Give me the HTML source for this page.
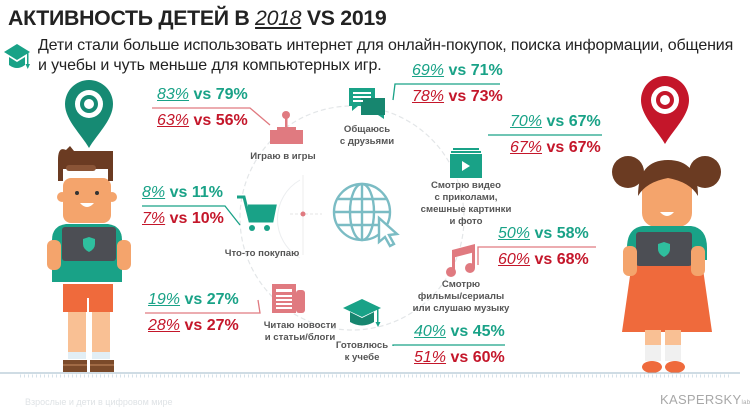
<!DOCTYPE html>
<html><head><meta charset="utf-8">
<style>
*{margin:0;padding:0;box-sizing:border-box}
body{width:750px;height:419px;background:#fff;position:relative;overflow:hidden;font-family:"Liberation Sans","DejaVu Sans",sans-serif}
.abs{position:absolute}
#title{left:8px;top:6px;font-size:21.3px;font-weight:bold;color:#222;letter-spacing:-0.3px;white-space:nowrap}
#title u{font-style:italic;font-weight:normal}
.sub{left:38px;font-size:16px;color:#222;white-space:nowrap;letter-spacing:-0.15px}
.lbl{font-size:9.6px;font-weight:bold;color:#555;text-align:center;line-height:12px;white-space:nowrap;transform:translateX(-50%)}
.st{font-size:16px;font-weight:bold;white-space:nowrap}
.st i{text-decoration:underline;font-weight:normal}
.t{color:#19a287}.r{color:#c4162a}
</style></head><body>
<div id="title" class="abs">АКТИВНОСТЬ ДЕТЕЙ В <u>2018</u> VS 2019</div>
<div class="abs sub" style="top:37px">Дети стали больше использовать интернет для онлайн-покупок, поиска информации, общения</div>
<div class="abs sub" style="top:57px">и учебы и чуть меньше для компьютерных игр.</div>

<svg class="abs" style="left:0;top:0" width="750" height="419">
 <g fill="#19a287">
  <polygon points="4,52 17,44 30,52 17,60"/><path d="M9,57 v8 q8,6 16,0 v-8 l-8,5z"/><rect x="27" y="52" width="1.5" height="14"/><polygon points="25.5,64 30,64 27.75,69"/>
 </g>
 <circle cx="352" cy="218" r="112" fill="none" stroke="#e3e6e8" stroke-width="1.2" stroke-dasharray="5 3"/>
 <path d="M300,180 A45,45 0 0 0 300,258" fill="none" stroke="#eceef0" stroke-width="1"/>
 <line x1="290" y1="214" x2="322" y2="214" stroke="#e6e6e6" stroke-dasharray="3 2"/>
 <line x1="303" y1="175" x2="303" y2="255" stroke="#ececec"/>
 <circle cx="303" cy="214" r="2.5" fill="#e07a80"/>
 <g fill="none" stroke="#7bbcc4" stroke-width="2.4">
  <circle cx="362" cy="212" r="28"/><ellipse cx="362" cy="212" rx="12" ry="28"/><line x1="362" y1="184" x2="362" y2="240"/>
  <line x1="334" y1="212" x2="390" y2="212"/><line x1="338" y1="199" x2="386" y2="199"/><line x1="338" y1="225" x2="386" y2="225"/>
  <path d="M379,218 l0,24 l6,-5 l5,9 l4,-2 l-5,-9 l8,-1z" fill="#fff"/>
 </g>
 <g fill="#e07a80">
  <circle cx="286" cy="115" r="4"/><rect x="285" y="118" width="2.5" height="12"/><rect x="277" y="127" width="19" height="3"/><rect x="270" y="130" width="33" height="14"/>
 </g>
 <g fill="#19a287">
  <rect x="349" y="88" width="26" height="18"/><polygon points="352,106 358,106 352,111"/>
  <rect x="361" y="98" width="24" height="17" fill="#17866f"/><polygon points="378,115 384,115 384,119"/>
  <g fill="#fff"><rect x="353" y="92" width="18" height="2"/><rect x="353" y="96" width="18" height="2"/><rect x="353" y="100" width="10" height="2"/></g>
 </g>
 <g fill="#19a287">
  <rect x="453" y="148" width="26" height="2"/><rect x="451" y="151" width="30" height="2"/><rect x="450" y="154" width="32" height="24"/>
  <polygon points="462,161 462,171 470,166" fill="#fff"/>
 </g>
 <g fill="#19a287">
  <path d="M237,197 h7 l6,24 h22 l3,-15 h-27" fill="none" stroke="#19a287" stroke-width="3"/>
  <polygon points="246,207 274,207 271,220 249,220"/><circle cx="252" cy="228" r="3"/><circle cx="267" cy="228" r="3"/>
 </g>
 <g fill="#e07a80">
  <rect x="452" y="250" width="3" height="22"/><rect x="472" y="246" width="3" height="22"/><polygon points="452,250 475,244 475,252 452,258"/>
  <circle cx="451" cy="272" r="5"/><circle cx="470" cy="268" r="5"/>
 </g>
 <g fill="#e07a80">
  <rect x="272" y="284" width="24" height="29"/><rect x="296" y="290" width="9" height="23" rx="3"/>
  <g fill="#fff"><rect x="276" y="289" width="16" height="3"/><rect x="276" y="295" width="16" height="2"/><rect x="276" y="299" width="16" height="2"/><rect x="276" y="303" width="16" height="2"/><rect x="276" y="307" width="16" height="2"/></g>
 </g>
 <g fill="#19a287">
  <polygon points="343,308 362,299 381,308 362,317"/><path d="M350,312 v10 q12,7 24,0 v-10 l-12,6z" fill="#17866f"/><rect x="377" y="308" width="1.5" height="16"/><polygon points="375.5,322 380.5,322 378,327"/>
 </g>

 <g id="connectors"></g>

 <g>
  <path d="M89,80 a24,24 0 0 1 24,24 c0,16 -16,30 -24,44 c-8,-14 -24,-28 -24,-44 a24,24 0 0 1 24,-24z" fill="#168a73"/>
  <circle cx="89" cy="104" r="14" fill="#fff"/><circle cx="89" cy="104" r="9" fill="#168a73"/><circle cx="89" cy="104" r="5" fill="#fff"/>
  <rect x="63" y="178" width="48" height="45" rx="8" fill="#f4a46c"/>
  <circle cx="62" cy="197" r="5" fill="#f4a46c"/><circle cx="112" cy="197" r="5" fill="#f4a46c"/>
  <path d="M58,160 q0,-14 8,-10 l4,-4 l4,5 h39 v30 h-5 v-12 h-45 v12 h-5z" fill="#6b3b22"/>
  <rect x="66" y="165" width="30" height="6" rx="3" fill="#8a5436"/>
  <circle cx="77" cy="193" r="2" fill="#333"/><circle cx="97" cy="193" r="2" fill="#333"/>
  <path d="M80,203 q7,8 14,0z" fill="#fff"/>
  <path d="M52,240 q0,-14 14,-16 h42 q14,2 14,16 v42 h-70z" fill="#19a287"/>
  <rect x="63" y="284" width="50" height="28" fill="#ef6a3c"/><rect x="87" y="298" width="2" height="14" fill="#fff"/>
  <rect x="68" y="312" width="18" height="44" fill="#f9c094"/><rect x="92" y="312" width="18" height="44" fill="#f9c094"/>
  <rect x="68" y="352" width="18" height="7" fill="#e2eef5"/><rect x="92" y="352" width="18" height="7" fill="#e2eef5"/>
  <rect x="63" y="360" width="24" height="12" fill="#7b4a2a"/><rect x="90" y="360" width="24" height="12" fill="#7b4a2a"/>
  <rect x="63" y="364" width="24" height="2" fill="#a06a45"/><rect x="90" y="364" width="24" height="2" fill="#a06a45"/>
  <rect x="62" y="227" width="54" height="34" rx="3" fill="#4c4e54"/>
  <path d="M89,237 l6,2 v5 q0,5 -6,8 q-6,-3 -6,-8 v-5z" fill="#2fbf9e"/>
  <rect x="47" y="240" width="14" height="30" rx="6" fill="#f4a46c"/><rect x="117" y="240" width="14" height="30" rx="6" fill="#f4a46c"/>
 </g>
 <g>
  <path d="M665,76 a24,24 0 0 1 24,24 c0,16 -16,30 -24,44 c-8,-14 -24,-28 -24,-44 a24,24 0 0 1 24,-24z" fill="#c4162a"/>
  <circle cx="665" cy="100" r="14" fill="#fff"/><circle cx="665" cy="100" r="9" fill="#c4162a"/><circle cx="665" cy="100" r="5" fill="#fff"/>
  <circle cx="628" cy="172" r="16" fill="#6b3b22"/><circle cx="705" cy="172" r="16" fill="#6b3b22"/>
  <rect x="642" y="175" width="50" height="52" rx="14" fill="#f4a46c"/>
  <path d="M638,196 q0,-36 30,-36 q30,0 30,36 q-8,-14 -30,-18 q-22,4 -30,18z" fill="#6b3b22"/>
  <path d="M660,212 q7,8 14,0z" fill="#fff"/>
  <path d="M627,248 q0,-20 16,-22 h48 q16,2 16,22 v12 h-80z" fill="#19a287"/>
  <path d="M632,262 h70 l10,70 h-90z" fill="#ef6a3c"/>
  <rect x="645" y="330" width="16" height="28" fill="#f9c094"/><rect x="665" y="330" width="16" height="28" fill="#f9c094"/>
  <rect x="645" y="345" width="16" height="16" fill="#f0f0f0"/><rect x="665" y="345" width="16" height="16" fill="#f0f0f0"/>
  <ellipse cx="652" cy="367" rx="10" ry="6" fill="#ef6a3c"/><ellipse cx="675" cy="367" rx="10" ry="6" fill="#ef6a3c"/>
  <rect x="636" y="232" width="56" height="34" rx="3" fill="#4c4e54"/>
  <path d="M664,242 l6,2 v5 q0,5 -6,8 q-6,-3 -6,-8 v-5z" fill="#2fbf9e"/>
  <rect x="623" y="246" width="14" height="30" rx="6" fill="#f4a46c"/><rect x="691" y="246" width="14" height="30" rx="6" fill="#f4a46c"/>
 </g>
 <line x1="0" y1="373" x2="740" y2="373" stroke="#9fb8c8" stroke-width="1"/>
 <line x1="20" y1="376" x2="730" y2="376" stroke="#d5e2ea" stroke-width="3" stroke-dasharray="1 3"/>
</svg>

<div class="abs lbl" style="left:283px;top:151px">Играю в игры</div>
<div class="abs lbl" style="left:367px;top:124px">Общаюсь<br>с друзьями</div>
<div class="abs lbl" style="left:466px;top:180px">Смотрю видео<br>с приколами,<br>смешные картинки<br>и фото</div>
<div class="abs lbl" style="left:262px;top:248px">Что-то покупаю</div>
<div class="abs lbl" style="left:461px;top:279px">Смотрю<br>фильмы/сериалы<br>или слушаю музыку</div>
<div class="abs lbl" style="left:300px;top:320px">Читаю новости<br>и статьи/блоги</div>
<div class="abs lbl" style="left:362px;top:340px">Готовлюсь<br>к учебе</div>

<div id="stats"></div>

<div class="abs" style="left:25px;top:397px;font-size:9px;color:#dfe3e6">Взрослые и дети в цифровом мире</div>
<div class="abs" style="left:660px;top:392px;font-size:13px;color:#a8a8a8;letter-spacing:0.3px">KASPERSKY<span style="font-size:6px">lab</span></div>

<script>
const categories=["games","friends","video","shopping","movies","news","study"];
const boys2018=[83,69,70,8,50,19,40];
const boys2019=[79,71,67,11,58,27,45];
const girls2018=[63,78,67,7,60,28,51];
const girls2019=[56,73,67,10,68,27,60];
// layout per category: [textLeft, topRowY, lineX1, lineX2, diagX, diagY, lineColor]
const layout=[[157,86,152,250,270,125,"#e07a80"],[412,62,395,500,393,100,"#19a287"],[510,113,488,602,488,135,"#19a287"],[142,184,142,225,240,225,"#19a287"],[498,225,478,596,478,265,"#e07a80"],[148,291,145,260,258,300,"#e07a80"],[414,323,393,505,393,346,"#19a287"]];
const st=document.getElementById('stats');
const g=document.getElementById('connectors');
categories.forEach((c,i)=>{
 const L=layout[i];
 const a=document.createElement('div');
 a.className='abs st t';a.style.left=L[0]+'px';a.style.top=L[1]+'px';
 a.innerHTML='<i>'+boys2018[i]+'%</i> vs '+boys2019[i]+'%';
 
 
 st.appendChild(a);
 const b=document.createElement('div');
 b.className='abs st r';b.style.left=L[0]+'px';b.style.top=(L[1]+26)+'px';
 b.innerHTML='<i>'+girls2018[i]+'%</i> vs '+girls2019[i]+'%';
 
 
 st.appendChild(b);
 const y=L[1]+22;
 const p=document.createElementNS('http://www.w3.org/2000/svg','polyline');
 const near=Math.abs(L[4]-L[2])<Math.abs(L[4]-L[3])?L[2]:L[3];
 const pts=near===L[2]?[[L[3],y],[L[2],y],[L[4],L[5]]]:[[L[2],y],[L[3],y],[L[4],L[5]]];
 p.setAttribute('points',pts.map(q=>q.join(',')).join(' '));
 p.setAttribute('fill','none');p.setAttribute('stroke',L[6]);p.setAttribute('stroke-width','1.3');
 
 
 g.appendChild(p);
});
</script>
</body></html>
